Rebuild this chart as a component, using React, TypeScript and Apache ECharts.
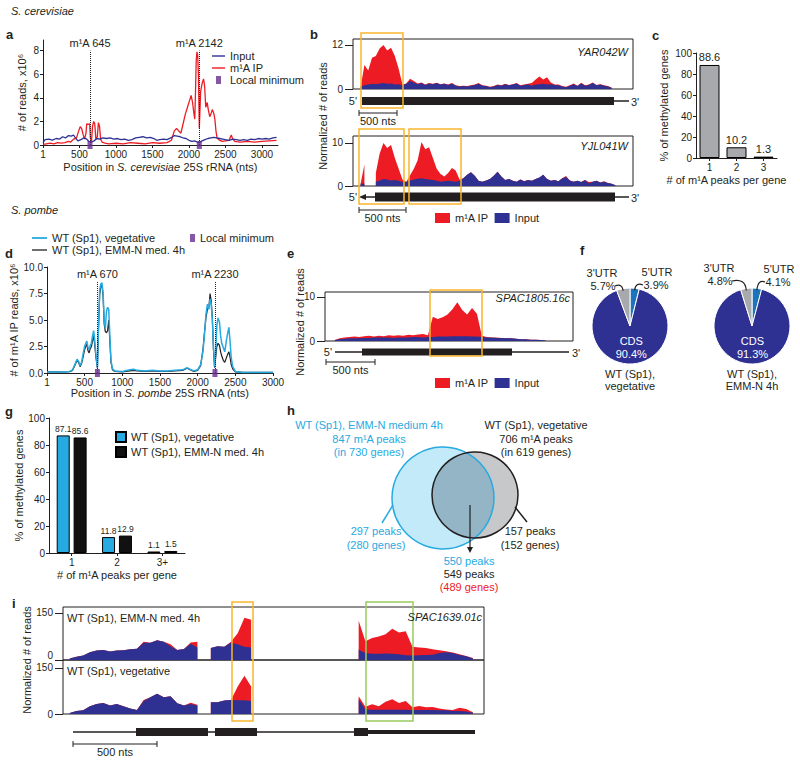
import React, { useEffect, useRef } from "react";
import * as echarts from "echarts";

const FONT = "'Liberation Sans', Arial, Helvetica, sans-serif";
const INK = "#231f20";
const RED = "#ed1c24";
const NAVY = "#2e3192";
const CYAN = "#27aae1";
const PURPLE = "#662d91";
const YELLOW = "#f9b52c";
const GREEN = "#9bcb5d";
const GREY_BAR = "#a7a9ac";

// ---------------- panel a (S. cerevisiae 25S rRNA) ----------------
const aXTicks = [1, 500, 1000, 1500, 2000, 2500, 3000];
const aYTicks = [0, 2, 4, 6, 8];
const aSites = [645, 2142];
const aInput: [number, number][] = [
  [1, 0.2], [30, 0.45], [80, 0.5], [130, 0.42], [180, 0.55], [230, 0.5], [270, 0.7], [310, 0.6], [350, 0.8], [390, 0.75],
  [420, 0.85], [450, 0.55], [480, 0.35], [520, 0.45], [560, 0.6], [600, 0.5], [630, 0.3], [660, 0.25], [700, 0.35], [740, 0.55],
  [780, 0.5], [820, 0.6], [870, 0.55], [920, 0.6], [970, 0.5], [1020, 0.55], [1070, 0.45], [1120, 0.5], [1170, 0.4], [1220, 0.45],
  [1270, 0.6], [1320, 0.65], [1370, 0.7], [1420, 0.6], [1470, 0.65], [1520, 0.55], [1560, 0.4], [1600, 0.45], [1650, 0.5], [1700, 0.45],
  [1750, 0.6], [1800, 0.8], [1840, 0.75], [1880, 0.7], [1920, 0.6], [1960, 0.55], [2000, 0.4], [2040, 0.3], [2080, 0.35], [2110, 0.25],
  [2142, 0.2], [2180, 0.35], [2220, 0.45], [2260, 0.55], [2300, 0.6], [2340, 0.65], [2380, 0.6], [2420, 0.55], [2460, 0.5], [2500, 0.45],
  [2550, 0.4], [2600, 0.5], [2650, 0.45], [2700, 0.4], [2750, 0.45], [2800, 0.4], [2850, 0.5], [2900, 0.45], [2950, 0.55], [3000, 0.5],
  [3050, 0.55], [3100, 0.5], [3150, 0.6], [3200, 0.65],
];
const aIP: [number, number][] = [
  [1, 0.05], [50, 0.1], [100, 0.15], [150, 0.1], [200, 0.2], [250, 0.15], [300, 0.2], [350, 0.3], [380, 0.25], [420, 0.5],
  [460, 0.6], [490, 1.2], [510, 1.55], [530, 1.4], [550, 0.9], [570, 0.5], [590, 1.0], [600, 1.8], [620, 1.75], [640, 1.8],
  [650, 0.6], [665, 0.3], [680, 1.6], [695, 2.0], [710, 1.8], [725, 0.5], [745, 0.7], [760, 1.9], [775, 1.6], [790, 0.5],
  [810, 0.25], [850, 0.15], [900, 0.1], [1000, 0.15], [1100, 0.1], [1200, 0.2], [1300, 0.15], [1400, 0.1], [1500, 0.2], [1600, 0.15],
  [1700, 0.2], [1760, 0.4], [1800, 1.2], [1830, 1.4], [1860, 1.2], [1890, 1.0], [1920, 1.8], [1950, 2.6], [1980, 3.2], [2010, 3.8],
  [2030, 4.2], [2050, 3.6], [2065, 2.8], [2080, 2.2], [2090, 4.5], [2100, 7.2], [2110, 7.9], [2120, 7.6], [2130, 6.0], [2142, 1.4],
  [2160, 4.5], [2180, 5.2], [2200, 5.6], [2215, 5.0], [2230, 3.2], [2250, 3.6], [2265, 3.0], [2285, 2.4], [2300, 2.6], [2320, 3.0],
  [2340, 2.7], [2355, 2.2], [2370, 1.2], [2385, 0.6], [2420, 0.4], [2460, 0.3], [2500, 0.35], [2550, 0.4], [2580, 0.85], [2600, 0.5],
  [2630, 0.3], [2700, 0.25], [2800, 0.3], [2900, 0.25], [3000, 0.3], [3100, 0.35], [3200, 0.4],
];

// ---------------- panel b (coverage tracks) ----------------
const bStart = 100;
const bStep = 50;
const bGenes = ["YAR042W", "YJL041W"];
const bYarIP = [
  0.5, 6.5, 5.0, 8.5, 9.0, 11.0, 12.0, 10.5, 11.2, 9.0, 5.5, 1.2, 1.5, 2.8, 2.2, 1.5, 1.8, 1.2, 1.6, 1.4,
  1.7, 1.3, 1.5, 1.2, 1.6, 1.0, 0.8, 0.9, 0.8, 1.0, 1.2, 1.6, 1.0, 0.9, 0.6, 0.8, 1.2, 1.0, 1.4, 1.1,
  1.3, 1.6, 1.0, 1.2, 1.4, 1.6, 2.6, 3.4, 2.6, 3.2, 1.8, 1.2, 1.2, 0.8, 0.6, 1.0, 1.5, 0.9, 1.7, 1.0,
  1.2, 1.8, 1.1, 1.3, 1.0, 0.8, 0.4,
];
const bYarInput = [
  0.6, 1.0, 1.2, 1.4, 1.3, 1.5, 1.6, 1.4, 1.5, 1.2, 1.3, 1.0, 1.4, 2.2, 1.8, 1.3, 1.6, 1.1, 1.5, 1.3,
  1.6, 1.2, 1.4, 1.1, 1.5, 0.9, 0.7, 0.8, 0.7, 0.9, 1.1, 1.4, 0.9, 0.8, 0.5, 0.7, 1.1, 0.9, 1.3, 1.0,
  1.2, 1.5, 0.9, 1.1, 1.3, 0.9, 1.2, 1.3, 1.4, 1.2, 1.3, 1.1, 1.0, 0.7, 0.5, 0.9, 1.3, 0.8, 1.5, 0.9,
  1.1, 1.6, 1.0, 1.2, 0.9, 0.7, 0.3,
];
const bYjlIP = [
  0.5, 5.0, null, null, 3.0, 7.5, 10.0, 8.8, 9.5, 6.5, 4.0, 1.5, 0.9, 2.5, 4.0, 6.0, 10.2, 8.5, 9.0, 6.5,
  4.0, 2.8, 2.2, 3.0, 4.2, 3.6, 1.5, 1.8, 2.6, 3.2, 2.4, 1.2, 1.0, 1.3, 1.6, 2.4, 3.3, 2.2, 1.4, 1.6,
  1.2, 1.0, 1.5, 1.1, 1.4, 1.2, 1.6, 2.0, 2.6, 1.6, 1.2, 1.4, 1.1, 1.8, 2.3, 1.3, 1.0, 1.2, 0.9, 1.4,
  0.9, 1.0, 1.2, 0.8, 1.1, 0.7, 0.5, 0.2,
];
const bYjlInput = [
  0.5, 0.6, null, null, 1.0, 1.3, 1.6, 1.5, 1.3, 1.4, 1.2, 0.9, 1.0, 1.3, 1.5, 1.7, 1.8, 1.6, 1.5, 1.4,
  1.2, 1.0, 1.1, 1.2, 1.1, 1.0, 1.2, 1.8, 2.6, 3.2, 2.4, 1.2, 1.0, 1.3, 1.6, 2.4, 3.3, 2.2, 1.4, 1.6,
  1.2, 1.0, 1.5, 1.1, 1.4, 1.2, 1.6, 2.0, 2.6, 1.6, 1.2, 1.4, 1.1, 1.8, 2.1, 1.3, 1.0, 1.2, 0.9, 1.4,
  0.6, 1.0, 1.2, 0.8, 1.0, 0.7, 0.5, 0.2,
];

// ---------------- panel c ----------------
const cCats = ["1", "2", "3"];
const cVals = [88.6, 10.2, 1.3];

// ---------------- panel d (S. pombe 25S rRNA) ----------------
const dXTicks = [1, 500, 1000, 1500, 2000, 2500, 3000];
const dSites = [670, 2230];
const dVeg: [number, number][] = [
  [1, 0.1], [100, 0.1], [200, 0.08], [300, 0.15], [340, 0.3], [370, 0.8], [400, 1.3], [420, 1.1], [440, 0.7], [460, 1.0],
  [480, 1.8], [500, 2.5], [515, 2.8], [530, 3.0], [545, 2.4], [560, 2.2], [575, 2.6], [590, 2.8], [605, 3.5], [620, 4.0],
  [635, 3.0], [650, 1.8], [670, 0.5], [685, 4.5], [700, 7.8], [715, 8.4], [730, 8.5], [745, 7.6], [760, 5.0], [775, 4.2],
  [790, 5.8], [805, 6.2], [820, 6.0], [835, 3.5], [850, 1.2], [870, 0.4], [900, 0.2], [1000, 0.15], [1100, 0.3], [1150, 0.35],
  [1200, 0.25], [1300, 0.2], [1400, 0.25], [1500, 0.2], [1600, 0.2], [1700, 0.25], [1800, 0.3], [1860, 0.5], [1900, 0.35], [1950, 0.2],
  [2000, 0.3], [2040, 0.8], [2070, 2.0], [2090, 3.5], [2110, 5.5], [2130, 6.5], [2150, 6.0], [2165, 7.0], [2180, 6.5], [2195, 5.0],
  [2210, 2.5], [2225, 0.6], [2240, 2.0], [2255, 4.5], [2270, 5.2], [2290, 4.8], [2305, 3.5], [2320, 2.8], [2340, 2.4], [2360, 2.0],
  [2380, 3.0], [2400, 3.8], [2415, 4.3], [2430, 3.0], [2445, 1.5], [2465, 0.6], [2500, 0.15], [2600, 0.05], [2800, 0.05], [3000, 0.05],
];
const dEmm: [number, number][] = [
  [1, 0.1], [100, 0.1], [200, 0.08], [300, 0.12], [340, 0.25], [370, 0.7], [400, 1.2], [420, 1.0], [440, 0.6], [460, 0.9],
  [480, 1.5], [500, 2.2], [515, 2.5], [530, 2.7], [545, 2.1], [560, 1.9], [575, 2.3], [590, 2.5], [605, 3.0], [620, 3.6],
  [635, 2.6], [650, 1.5], [670, 0.45], [685, 4.2], [700, 7.4], [715, 8.2], [730, 8.3], [745, 7.3], [760, 4.6], [775, 3.9],
  [790, 3.8], [805, 4.0], [820, 5.0], [835, 3.0], [850, 1.0], [870, 0.3], [900, 0.15], [1000, 0.1], [1100, 0.2], [1150, 0.25],
  [1200, 0.2], [1300, 0.15], [1400, 0.2], [1500, 0.15], [1600, 0.15], [1700, 0.2], [1800, 0.25], [1860, 0.45], [1900, 0.3], [1950, 0.15],
  [2000, 0.25], [2040, 0.7], [2070, 2.2], [2090, 3.8], [2110, 5.2], [2130, 6.0], [2150, 6.3], [2165, 7.5], [2180, 6.8], [2195, 5.2],
  [2210, 2.2], [2225, 0.5], [2240, 1.5], [2255, 2.5], [2270, 2.8], [2290, 2.6], [2305, 2.0], [2320, 1.6], [2340, 1.2], [2360, 1.0],
  [2380, 1.4], [2400, 1.8], [2415, 2.0], [2430, 1.5], [2445, 0.8], [2465, 0.4], [2500, 0.1], [2600, 0.05], [2800, 0.05], [3000, 0.05],
];

// ---------------- panel e ----------------
const eStart = 100;
const eStep = 50;
const eGene = "SPAC1805.16c";
const eIP = [
  0.2, 0.6, 0.8, 0.9, 1.0, 0.9, 1.1, 1.2, 1.0, 1.2, 1.1, 1.3, 1.2, 1.3, 1.2, 1.4, 1.3, 1.5, 1.6, 1.3,
  5.5, 5.0, 5.4, 6.0, 7.2, 8.8, 7.0, 6.0, 7.5, 6.2, 1.2, 0.9, 0.8, 0.8, 0.7, 0.6, 0.6, 0.5, 0.4, 0.4,
  0.3, 0.3, 0.2, 0.1,
];
const eInput = [
  0.2, 0.4, 0.5, 0.6, 0.6, 0.6, 0.7, 0.7, 0.8, 0.8, 0.8, 0.8, 0.7, 0.8, 0.8, 0.8, 0.9, 0.9, 0.8, 0.9,
  0.9, 1.0, 1.0, 1.0, 1.1, 1.1, 1.1, 1.1, 1.0, 1.0, 0.9, 0.8, 0.8, 0.7, 0.7, 0.6, 0.6, 0.5, 0.4, 0.4,
  0.3, 0.3, 0.2, 0.1,
];

// ---------------- panel f ----------------
const fSlices = ["5'UTR", "CDS", "3'UTR"];
const fVeg = [3.9, 90.4, 5.7];
const fEmm = [4.1, 91.3, 4.8];
const fConds = ["WT (Sp1),\nvegetative", "WT (Sp1),\nEMM-N 4h"];

// ---------------- panel g ----------------
const gCats = ["1", "2", "3+"];
const gVeg = [87.1, 11.8, 1.1];
const gEmm = [85.6, 12.9, 1.5];

// ---------------- panel h ----------------
const hConds = ["WT (Sp1), EMM-N medium 4h", "WT (Sp1), vegetative"];
const hTotalPeaks = [847, 706];
const hTotalGenes = [730, 619];
const hUniquePeaks = [297, 157];
const hUniqueGenes = [280, 152];
const hSharedPeaks = [550, 549];
const hSharedGenes = 489;

// ---------------- panel i ----------------
const iStart = 0;
const iStep = 40;
const iGene = "SPAC1639.01c";
const iTracks = ["WT (Sp1), EMM-N med. 4h", "WT (Sp1), vegetative"];
const N15 = [null, null, null, null, null, null, null, null, null, null, null, null, null, null, null];
const iEmmInput = [
  null, 5, 10, 14, 25, 30, 32, 27, 30, 31, 34, 36, 55, 55, 63, 58, 44, 32, 35, 52, 40, null, 38, 44, 42, 55, 50, 42, 40,
  ...N15,
  33, 22, 20, 20, 21, 20, 18, 15, 14, 15, 16, 17, 22, 25, 22, 16, 12, 5,
];
const iEmmIP = [
  null, 5, 10, 14, 25, 30, 32, 27, 30, 31, 34, 36, 58, 55, 63, 58, 50, 32, 35, 56, 58, null, 38, 44, 42, 58, 85, 135, 128,
  ...N15,
  125, 60, 70, 75, 82, 100, 88, 92, 42, 40, 38, 34, 31, 28, 24, 18, 13, 6,
];
const iVegInput = [
  null, 3, 10, 12, 25, 33, 36, 28, 33, 25, 18, 13, 42, 55, 66, 55, 58, 35, 28, 33, 28, null, 38, 38, 44, 46, 45, 45, 42,
  ...N15,
  48, 15, 14, 14, 14, 14, 14, 14, 13, 13, 13, 13, 12, 12, 10, 10, 8, 4,
];
const iVegIP = [
  null, 3, 10, 12, 25, 33, 36, 28, 33, 25, 18, 13, 46, 55, 66, 55, 58, 35, 28, 37, 30, null, 38, 38, 44, 46, 90, 125, 90,
  ...N15,
  58, 24, 32, 25, 40, 48, 36, 42, 22, 26, 22, 23, 18, 15, 13, 20, 16, 6,
];

// ---------------- helpers ----------------
const toXY = (start: number, step: number, vals: (number | null)[]) =>
  vals.map((v, i) => [start + i * step, v]);

const stripName = (n: string) => n.slice(n.indexOf(":") + 1);

const area = (name: string, idx: number, data: any[], color: string, z: number) => ({
  name,
  type: "line",
  xAxisIndex: idx,
  yAxisIndex: idx,
  data,
  symbol: "none",
  showSymbol: false,
  connectNulls: false,
  silent: true,
  z,
  color,
  lineStyle: { width: 0, color },
  itemStyle: { color },
  areaStyle: { color, opacity: 1 },
});

const siteLines = (sites: number[], top: number) => ({
  silent: true,
  symbol: ["none", "none"],
  lineStyle: { type: "dotted", color: INK, width: 1 },
  label: { show: true, position: "end", formatter: "{b}", color: INK, fontSize: 11, fontFamily: FONT, distance: 2 },
  emphasis: { disabled: true },
  data: sites.map((s) => [{ name: `m¹A ${s}`, coord: [s, 0] }, { coord: [s, top] }]),
});

const txt = (x: number, y: number, text: string, o: any = {}) => ({
  type: "text",
  x,
  y,
  rotation: o.rot || 0,
  silent: true,
  z: 120,
  style: {
    text,
    fill: o.fill || INK,
    fontSize: o.size || 11,
    fontFamily: FONT,
    fontWeight: o.bold ? "bold" : "normal",
    fontStyle: o.italic ? "italic" : "normal",
    textAlign: o.align || "left",
    align: o.align || "left",
    textVerticalAlign: "middle",
    verticalAlign: "middle",
    lineHeight: o.lh || 13,
  },
});
const ln = (x1: number, y1: number, x2: number, y2: number, o: any = {}) => ({
  type: "line",
  silent: true,
  z: o.z || 110,
  shape: { x1, y1, x2, y2 },
  style: { stroke: o.color || INK, lineWidth: o.w || 1 },
});
const box = (x: number, y: number, w: number, h: number, o: any = {}) => ({
  type: "rect",
  silent: true,
  z: o.z || 110,
  shape: { x, y, width: w, height: h },
  style: { fill: o.fill || "none", stroke: o.stroke || "none", lineWidth: o.w || 1 },
});
const scaleBar = (x1: number, x2: number, y: number, label: string) => [
  ln(x1, y, x2, y),
  ln(x1, y - 3, x1, y + 3),
  ln(x2, y - 3, x2, y + 3),
  txt((x1 + x2) / 2, y + 8, label, { align: "center" }),
];

const lens = (c1: number[], r1: number, c2: number[], r2: number, n = 48) => {
  const dx = c2[0] - c1[0];
  const dy = c2[1] - c1[1];
  const d = Math.hypot(dx, dy);
  const phi = Math.atan2(dy, dx);
  const a = (r1 * r1 - r2 * r2 + d * d) / (2 * d);
  const alpha = Math.acos(a / r1);
  const beta = Math.acos((d - a) / r2);
  const pts: number[][] = [];
  for (let k = 0; k <= n; k++) {
    const t = phi - alpha + (2 * alpha * k) / n;
    pts.push([c1[0] + r1 * Math.cos(t), c1[1] + r1 * Math.sin(t)]);
  }
  for (let k = 0; k <= n; k++) {
    const t = phi + Math.PI - beta + (2 * beta * k) / n;
    pts.push([c2[0] + r2 * Math.cos(t), c2[1] + r2 * Math.sin(t)]);
  }
  return pts;
};

// anchor on pie rim at the middle of slice idx
const pieAnchor = (cx: number, cy: number, r: number, vals: number[], idx: number) => {
  const tot = vals.reduce((s, v) => s + v, 0);
  let cum = 0;
  for (let i = 0; i < idx; i++) cum += vals[i];
  const mid = ((cum + vals[idx] / 2) / tot) * Math.PI * 2;
  return [cx + r * Math.sin(mid), cy - r * Math.cos(mid)];
};

function buildOption() {
  const axLine = { show: true, lineStyle: { color: INK, width: 1 } };
  const tick = (len: number, extra: any = {}) => ({ show: true, length: len, lineStyle: { color: INK, width: 1 }, ...extra });
  const lab = (extra: any = {}) => ({ color: INK, fontSize: 10, fontFamily: FONT, margin: 4, ...extra });
  const plain = (v: number) => String(v);
  const nameStyle = { color: INK, fontSize: 11, fontFamily: FONT };
  const hidden = (max: number) => ({ type: "value", min: 0, max, show: false });
  const trackY = (max: number, ticks: number[], extra: any = {}) => ({
    type: "value",
    position: "left",
    offset: 0,
    min: 0,
    max,
    axisLine: { show: false },
    axisTick: tick(8, { customValues: ticks }),
    axisLabel: lab({ customValues: ticks, margin: 10, formatter: plain, ...extra }),
    splitLine: { show: false },
  });
  const gBase = { containLabel: false, outerBoundsMode: "none" };
  const framed = { show: true, borderColor: INK, borderWidth: 1, backgroundColor: "transparent" };

  const grid = [
    { ...gBase, left: 43, top: 40, width: 235, height: 105 }, // a
    { ...gBase, ...framed, left: 353, top: 39, width: 280, height: 50 }, // b1
    { ...gBase, ...framed, left: 353, top: 136, width: 280, height: 50 }, // b2
    { ...gBase, left: 696, top: 53, width: 81, height: 105 }, // c
    { ...gBase, left: 47, top: 267, width: 226, height: 106 }, // d
    { ...gBase, ...framed, left: 325, top: 292, width: 248, height: 49 }, // e
    { ...gBase, left: 49, top: 418, width: 136, height: 135 }, // g
    { ...gBase, ...framed, left: 63, top: 607, width: 421, height: 53 }, // i1
    { ...gBase, ...framed, left: 63, top: 660, width: 421, height: 54 }, // i2
  ];

  const xAxis: any[] = [
    {
      type: "value", gridIndex: 0, min: 1, max: 3220,
      axisLine: axLine, axisTick: tick(3, { customValues: aXTicks }),
      axisLabel: lab({ customValues: aXTicks, formatter: plain }),
      splitLine: { show: false },
      name: "{n|Position in }{i|S. cerevisiae}{n| 25S rRNA (nts)}", nameLocation: "middle", nameGap: 16,
      nameTextStyle: { ...nameStyle, rich: { n: { ...nameStyle }, i: { ...nameStyle, fontStyle: "italic" } } },
    },
    { ...hidden(3680), gridIndex: 1 },
    { ...hidden(3680), gridIndex: 2 },
    {
      type: "category", gridIndex: 3, data: cCats,
      axisLine: axLine, axisTick: tick(3, { alignWithLabel: true }), axisLabel: lab(),
      name: "# of m¹A peaks per gene", nameLocation: "middle", nameGap: 16,
      nameTextStyle: { ...nameStyle, padding: [0, 20, 0, 0] },
    },
    {
      type: "value", gridIndex: 4, min: 1, max: 3000,
      axisLine: axLine, axisTick: tick(3, { customValues: dXTicks }),
      axisLabel: lab({ customValues: dXTicks, formatter: plain }),
      splitLine: { show: false },
      name: "{n|Position in }{i|S. pombe}{n| 25S rRNA (nts)}", nameLocation: "middle", nameGap: 14,
      nameTextStyle: { ...nameStyle, rich: { n: { ...nameStyle }, i: { ...nameStyle, fontStyle: "italic" } } },
    },
    { ...hidden(2530), gridIndex: 5 },
    {
      type: "category", gridIndex: 6, data: gCats,
      axisLine: axLine, axisTick: tick(3, { alignWithLabel: true }), axisLabel: lab(),
      name: "# of m¹A peaks per gene", nameLocation: "middle", nameGap: 16, nameTextStyle: nameStyle,
    },
    { ...hidden(2506), gridIndex: 7 },
    { ...hidden(2506), gridIndex: 8 },
  ];

  const yAxis: any[] = [
    {
      type: "value", gridIndex: 0, min: 0, max: 8.9,
      axisLine: axLine, axisTick: tick(3, { customValues: aYTicks }),
      axisLabel: lab({ customValues: aYTicks, formatter: plain }),
      splitLine: { show: false },
      name: "# of reads, x10⁶", nameLocation: "middle", nameGap: 16, nameTextStyle: nameStyle,
    },
    { ...trackY(13.6, [0, 12]), gridIndex: 1 },
    { ...trackY(11.6, [0, 10]), gridIndex: 2 },
    {
      type: "value", gridIndex: 3, min: 0, max: 100, interval: 20,
      axisLine: axLine, axisTick: tick(3), axisLabel: lab(), splitLine: { show: false },
      name: "% of methylated genes", nameLocation: "middle", nameGap: 27, nameTextStyle: nameStyle,
    },
    {
      type: "value", gridIndex: 4, min: 0, max: 10, interval: 2.5,
      axisLine: axLine, axisTick: tick(3), axisLabel: lab({ formatter: (v: number) => v.toFixed(1) }),
      splitLine: { show: false },
      name: "# of m¹A IP reads, x10⁶", nameLocation: "middle", nameGap: 21, nameTextStyle: nameStyle,
    },
    { ...trackY(11.1, [0, 10]), gridIndex: 5 },
    {
      type: "value", gridIndex: 6, min: 0, max: 100, interval: 20,
      axisLine: axLine, axisTick: tick(3), axisLabel: lab(), splitLine: { show: false },
      name: "% of methylated genes", nameLocation: "middle", nameGap: 21, nameTextStyle: nameStyle,
    },
    { ...trackY(169, [150]), gridIndex: 7 },
    { ...trackY(176, [0, 150]), gridIndex: 8 },
    // zero tick of the upper i track, its label sits just above the shared border
    { ...trackY(169, [0], { verticalAlign: "bottom", lineHeight: 10 }), gridIndex: 7 },
  ];

  const pieSeries = (vals: number[], cx: number) => ({
    type: "pie",
    center: [cx, 326],
    radius: 38,
    startAngle: 90,
    clockwise: true,
    silent: true,
    emphasis: { disabled: true },
    itemStyle: { borderColor: "#fff", borderWidth: 1 },
    labelLine: { show: false },
    data: fSlices.map((n, i) => ({
      name: n,
      value: vals[i],
      itemStyle: { color: ["#1c75bc", NAVY, GREY_BAR][i] },
      label:
        i === 1
          ? { show: true, position: "inside", formatter: "{b}\n{c}%", color: "#fff", fontSize: 11, fontFamily: FONT, lineHeight: 13 }
          : { show: false },
    })),
  });

  const series: any[] = [
    // a
    {
      name: "a:m¹A IP", type: "line", xAxisIndex: 0, yAxisIndex: 0, data: aIP, symbol: "none", silent: true, z: 2,
      color: RED, lineStyle: { color: RED, width: 1.3 }, markLine: siteLines(aSites, 8.0),
    },
    {
      name: "a:Input", type: "line", xAxisIndex: 0, yAxisIndex: 0, data: aInput, symbol: "none", silent: true, z: 3,
      color: NAVY, lineStyle: { color: NAVY, width: 1.3 },
    },
    {
      name: "a:Local minimum", type: "scatter", xAxisIndex: 0, yAxisIndex: 0, symbol: "rect", symbolSize: [5, 8],
      clip: false, silent: true, z: 6, color: PURPLE, itemStyle: { color: PURPLE },
      data: aSites.map((s) => [s, 0]),
    },
    // b
    area("b:m¹A IP", 1, toXY(bStart, bStep, bYarIP), RED, 2),
    area("b:Input", 1, toXY(bStart, bStep, bYarInput), NAVY, 3),
    area("b:m¹A IP", 2, toXY(bStart, bStep, bYjlIP), RED, 2),
    area("b:Input", 2, toXY(bStart, bStep, bYjlInput), NAVY, 3),
    // c
    {
      type: "bar", xAxisIndex: 3, yAxisIndex: 3, data: cVals, barWidth: 20, silent: true,
      itemStyle: { color: GREY_BAR, borderColor: "#000", borderWidth: 1 },
      label: { show: true, position: "top", color: INK, fontSize: 11, fontFamily: FONT, distance: 2 },
    },
    // d
    {
      name: "d:WT (Sp1), EMM-N med. 4h", type: "line", xAxisIndex: 4, yAxisIndex: 4, data: dEmm, symbol: "none",
      silent: true, z: 2, color: INK, lineStyle: { color: INK, width: 1.2 },
    },
    {
      name: "d:WT (Sp1), vegetative", type: "line", xAxisIndex: 4, yAxisIndex: 4, data: dVeg, symbol: "none",
      silent: true, z: 3, color: CYAN, lineStyle: { color: CYAN, width: 1.5 }, markLine: siteLines(dSites, 8.6),
    },
    {
      name: "d:Local minimum", type: "scatter", xAxisIndex: 4, yAxisIndex: 4, symbol: "rect", symbolSize: [5, 8],
      clip: false, silent: true, z: 6, color: PURPLE, itemStyle: { color: PURPLE },
      data: dSites.map((s) => [s, 0]),
    },
    // e
    area("e:m¹A IP", 5, toXY(eStart, eStep, eIP), RED, 2),
    area("e:Input", 5, toXY(eStart, eStep, eInput), NAVY, 3),
    // f
    pieSeries(fVeg, 630),
    pieSeries(fEmm, 752),
    // g
    {
      name: "g:WT (Sp1), vegetative", type: "bar", xAxisIndex: 6, yAxisIndex: 6, data: gVeg, barWidth: 13, barGap: "30%",
      silent: true, color: CYAN, itemStyle: { color: CYAN, borderColor: "#000", borderWidth: 1 },
      label: { show: true, position: "top", color: INK, fontSize: 8.5, fontFamily: FONT, distance: 2 },
    },
    {
      name: "g:WT (Sp1), EMM-N med. 4h", type: "bar", xAxisIndex: 6, yAxisIndex: 6, data: gEmm, barWidth: 13, barGap: "30%",
      silent: true, color: "#111", itemStyle: { color: "#111", borderColor: "#000", borderWidth: 1 },
      label: { show: true, position: "top", color: INK, fontSize: 8.5, fontFamily: FONT, distance: 2 },
    },
    // i
    area("i:m¹A IP", 7, toXY(iStart, iStep, iEmmIP), RED, 2),
    area("i:Input", 7, toXY(iStart, iStep, iEmmInput), NAVY, 3),
    area("i:m¹A IP", 8, toXY(iStart, iStep, iVegIP), RED, 2),
    area("i:Input", 8, toXY(iStart, iStep, iVegInput), NAVY, 3),
  ];

  const legText = { color: INK, fontSize: 11, fontFamily: FONT, lineHeight: 12 };
  const legBase = { selectedMode: false, padding: 0, formatter: stripName, textStyle: legText };
  const squareIcon = "path://M0,0L5,0L5,8L0,8Z";
  const lineIcon = (w: number, h: number) => `path://M0,0L${w},0L${w},${h}L0,${h}Z`;
  const legend: any[] = [
    {
      ...legBase, left: 212, top: 50, orient: "vertical", itemWidth: 13, itemHeight: 8, itemGap: 0,
      data: [
        { name: "a:Input", icon: lineIcon(13, 1.4), itemStyle: { color: NAVY, borderWidth: 0 } },
        { name: "a:m¹A IP", icon: lineIcon(13, 1.4), itemStyle: { color: RED, borderWidth: 0 } },
        { name: "a:Local minimum", icon: squareIcon, itemStyle: { color: PURPLE, borderWidth: 0 } },
      ],
    },
    {
      ...legBase, left: 32, top: 232, orient: "vertical", itemWidth: 15, itemHeight: 8, itemGap: 0,
      data: [
        { name: "d:WT (Sp1), vegetative", icon: lineIcon(15, 1.8), itemStyle: { color: CYAN, borderWidth: 0 } },
        { name: "d:WT (Sp1), EMM-N med. 4h", icon: lineIcon(15, 1.3), itemStyle: { color: INK, borderWidth: 0 } },
      ],
    },
    {
      ...legBase, left: 190, top: 232, orient: "vertical", itemWidth: 5, itemHeight: 8, itemGap: 0,
      data: [{ name: "d:Local minimum", icon: squareIcon, itemStyle: { color: PURPLE, borderWidth: 0 } }],
    },
    {
      ...legBase, left: 435, top: 212, orient: "horizontal", itemWidth: 15, itemHeight: 10, itemGap: 6,
      data: [
        { name: "b:m¹A IP", icon: "rect", itemStyle: { color: RED, borderWidth: 0 } },
        { name: "b:Input", icon: "rect", itemStyle: { color: NAVY, borderWidth: 0 } },
      ],
    },
    {
      ...legBase, left: 435, top: 377, orient: "horizontal", itemWidth: 15, itemHeight: 10, itemGap: 6,
      data: [
        { name: "e:m¹A IP", icon: "rect", itemStyle: { color: RED, borderWidth: 0 } },
        { name: "e:Input", icon: "rect", itemStyle: { color: NAVY, borderWidth: 0 } },
      ],
    },
    {
      ...legBase, left: 115, top: 431, orient: "vertical", itemWidth: 10, itemHeight: 10, itemGap: 3,
      data: [
        { name: "g:WT (Sp1), vegetative", icon: "rect" },
        { name: "g:WT (Sp1), EMM-N med. 4h", icon: "rect" },
      ],
    },
  ];

  // ---------- graphics ----------
  const g: any[] = [];
  // headers & panel letters
  g.push(txt(11, 11, "S. cerevisiae", { italic: true }));
  g.push(txt(11, 210, "S. pombe", { italic: true }));
  const letters: [string, number, number][] = [
    ["a", 6, 34], ["b", 310, 34], ["c", 652, 35], ["d", 5, 253], ["e", 287, 253],
    ["f", 580, 250], ["g", 5, 411], ["h", 287, 410], ["i", 12, 603],
  ];
  letters.forEach(([l, x, y]) => g.push(txt(x, y, l, { bold: true, size: 13 })));

  // panel b
  g.push(txt(323, 116, "Normalized # of reads", { rot: Math.PI / 2, align: "center" }));
  g.push(txt(628, 52, bGenes[0], { italic: true, align: "right" }));
  g.push(txt(628, 146, bGenes[1], { italic: true, align: "right" }));
  g.push(box(362, 97, 252, 8, { fill: INK }));
  g.push(ln(613, 101, 629, 101, { w: 1.5 }));
  g.push(txt(357, 101, "5'", { align: "right" }));
  g.push(txt(631, 102, "3'"));
  g.push(box(361, 33, 42, 75, { stroke: YELLOW, w: 1.5, z: 115 }));
  g.push(...scaleBar(359, 397, 113, "500 nts"));
  g.push(ln(362, 197, 376, 197, { w: 1.5 }));
  g.push({ type: "polygon", silent: true, z: 110, shape: { points: [[359, 197], [366, 194], [366, 200]] }, style: { fill: INK } });
  g.push(box(375, 192.5, 240, 9, { fill: INK }));
  g.push(ln(614, 197, 629, 197, { w: 1.5 }));
  g.push(txt(357, 197, "5'", { align: "right" }));
  g.push(txt(631, 198, "3'"));
  g.push(box(359, 129, 45, 75, { stroke: YELLOW, w: 1.5, z: 115 }));
  g.push(box(409, 129, 52, 75, { stroke: YELLOW, w: 1.5, z: 115 }));
  g.push(...scaleBar(359, 406, 210, "500 nts"));

  // panel e
  g.push(txt(300, 322, "Normalized # of reads", { rot: Math.PI / 2, align: "center" }));
  g.push(txt(570, 298, eGene, { italic: true, align: "right" }));
  g.push(ln(335, 352, 569, 352, { w: 1.5 }));
  g.push(box(362, 348.5, 150, 7, { fill: INK }));
  g.push(txt(332, 352, "5'", { align: "right" }));
  g.push(txt(572, 353, "3'"));
  g.push(box(430, 290, 52, 66, { stroke: YELLOW, w: 1.5, z: 115 }));
  g.push(...scaleBar(326, 375, 362, "500 nts"));

  // panel f: outer pie labels with curved leaders
  const pies: [number[], number, number[][]][] = [
    [fVeg, 630, [[602, 273], [657, 272]]],
    [fEmm, 752, [[719, 268], [779, 269]]],
  ];
  pies.forEach(([vals, cx, pos], pi) => {
    const left = pos[0];
    const right = pos[1];
    // 3'UTR on the left (slice index 2), 5'UTR on the right (slice index 0)
    g.push(txt(left[0], left[1], fSlices[2], { align: "center" }));
    g.push(txt(left[0] + 1, left[1] + 13, `${vals[2]}%`, { align: "center" }));
    g.push(txt(right[0], right[1], fSlices[0], { align: "center" }));
    g.push(txt(right[0] - 1, right[1] + 13, `${vals[0]}%`, { align: "center" }));
    const aL = pieAnchor(cx, 326, 38, vals, 2);
    const aR = pieAnchor(cx, 326, 38, vals, 0);
    const yl = left[1] + 13;
    const yr = right[1] + 13;
    g.push({
      type: "bezierCurve", silent: true, z: 110,
      shape: { x1: left[0] + 13, y1: yl, cpx1: aL[0] - 1, cpy1: yl - 3, x2: aL[0], y2: aL[1] + 2 },
      style: { stroke: INK, lineWidth: 1.2, fill: "none" },
    });
    g.push({
      type: "bezierCurve", silent: true, z: 110,
      shape: { x1: right[0] - 14, y1: yr, cpx1: aR[0] + 1, cpy1: yr - 3, x2: aR[0], y2: aR[1] + 2 },
      style: { stroke: INK, lineWidth: 1.2, fill: "none" },
    });
    g.push(txt(cx, 380, fConds[pi], { align: "center", lh: 12 }));
  });

  // panel h: Venn diagram
  const c1 = [443, 498];
  const r1 = 51;
  const c2 = [475, 495];
  const r2 = 43;
  g.push({ type: "circle", silent: true, z: 10, shape: { cx: c1[0], cy: c1[1], r: r1 }, style: { fill: "#c2eaf9" } });
  g.push({ type: "circle", silent: true, z: 11, shape: { cx: c2[0], cy: c2[1], r: r2 }, style: { fill: "#c7c8ca" } });
  g.push({ type: "polygon", silent: true, z: 12, shape: { points: lens(c1, r1, c2, r2) }, style: { fill: "#93b5c6" } });
  g.push({ type: "circle", silent: true, z: 13, shape: { cx: c1[0], cy: c1[1], r: r1 }, style: { fill: "none", stroke: CYAN, lineWidth: 1.5 } });
  g.push({ type: "circle", silent: true, z: 14, shape: { cx: c2[0], cy: c2[1], r: r2 }, style: { fill: "none", stroke: INK, lineWidth: 1.5 } });
  g.push(txt(369, 425, hConds[0], { align: "center", fill: CYAN }));
  g.push(txt(369, 439, `${hTotalPeaks[0]} m¹A peaks`, { align: "center", fill: CYAN }));
  g.push(txt(369, 452, `(in ${hTotalGenes[0]} genes)`, { align: "center", fill: CYAN }));
  g.push(txt(536, 425, hConds[1], { align: "center" }));
  g.push(txt(536, 439, `${hTotalPeaks[1]} m¹A peaks`, { align: "center" }));
  g.push(txt(536, 452, `(in ${hTotalGenes[1]} genes)`, { align: "center" }));
  g.push(ln(393, 505, 382, 523, { color: CYAN, w: 1.5 }));
  g.push(txt(376, 531, `${hUniquePeaks[0]} peaks`, { align: "center", fill: CYAN }));
  g.push(txt(376, 545, `(${hUniqueGenes[0]} genes)`, { align: "center", fill: CYAN }));
  g.push(ln(515, 507, 527, 522, { w: 1.5 }));
  g.push(txt(530, 531, `${hUniquePeaks[1]} peaks`, { align: "center" }));
  g.push(txt(530, 545, `(${hUniqueGenes[1]} genes)`, { align: "center" }));
  g.push(ln(470, 505, 470, 549, { w: 1.2, z: 20 }));
  g.push({ type: "polygon", silent: true, z: 20, shape: { points: [[467, 547], [473, 547], [470, 553]] }, style: { fill: INK } });
  g.push(txt(469, 561, `${hSharedPeaks[0]} peaks`, { align: "center", fill: CYAN }));
  g.push(txt(469, 574, `${hSharedPeaks[1]} peaks`, { align: "center" }));
  g.push(txt(469, 587, `(${hSharedGenes} genes)`, { align: "center", fill: RED }));

  // panel i
  g.push(txt(27, 660, "Normalized # of reads", { rot: Math.PI / 2, align: "center" }));
  g.push(txt(67, 618, iTracks[0]));
  g.push(txt(67, 671, iTracks[1]));
  g.push(txt(482, 617, iGene, { italic: true, align: "right" }));
  g.push(box(232, 602, 21, 119, { stroke: YELLOW, w: 1.5, z: 115 }));
  g.push(box(366, 602, 47, 119, { stroke: GREEN, w: 1.5, z: 115 }));
  g.push(ln(73, 732, 475, 732, { w: 1.5 }));
  g.push(box(136, 728, 72, 8, { fill: INK }));
  g.push(box(215, 728, 42, 8, { fill: INK }));
  g.push(box(354, 728, 14, 8, { fill: INK }));
  g.push(box(368, 730, 107, 4, { fill: INK }));
  g.push(...scaleBar(73, 157, 744, "500 nts"));

  return {
    animation: false,
    backgroundColor: "#fff",
    textStyle: { fontFamily: FONT, color: INK },
    tooltip: { show: false },
    grid,
    xAxis,
    yAxis,
    legend,
    series,
    graphic: { elements: g },
  };
}

export default function App() {
  const ref = useRef<HTMLDivElement>(null);
  useEffect(() => {
    if (!ref.current) return;
    document.body.style.margin = "0";
    document.body.style.overflow = "hidden";
    const chart = echarts.init(ref.current, null, { renderer: "svg" });
    chart.setOption(buildOption() as any);
    return () => chart.dispose();
  }, []);
  return (
    <div
      ref={ref}
      style={{ position: "relative", left: 0, top: 0, width: 800, height: 763, background: "#fff" }}
    />
  );
}
